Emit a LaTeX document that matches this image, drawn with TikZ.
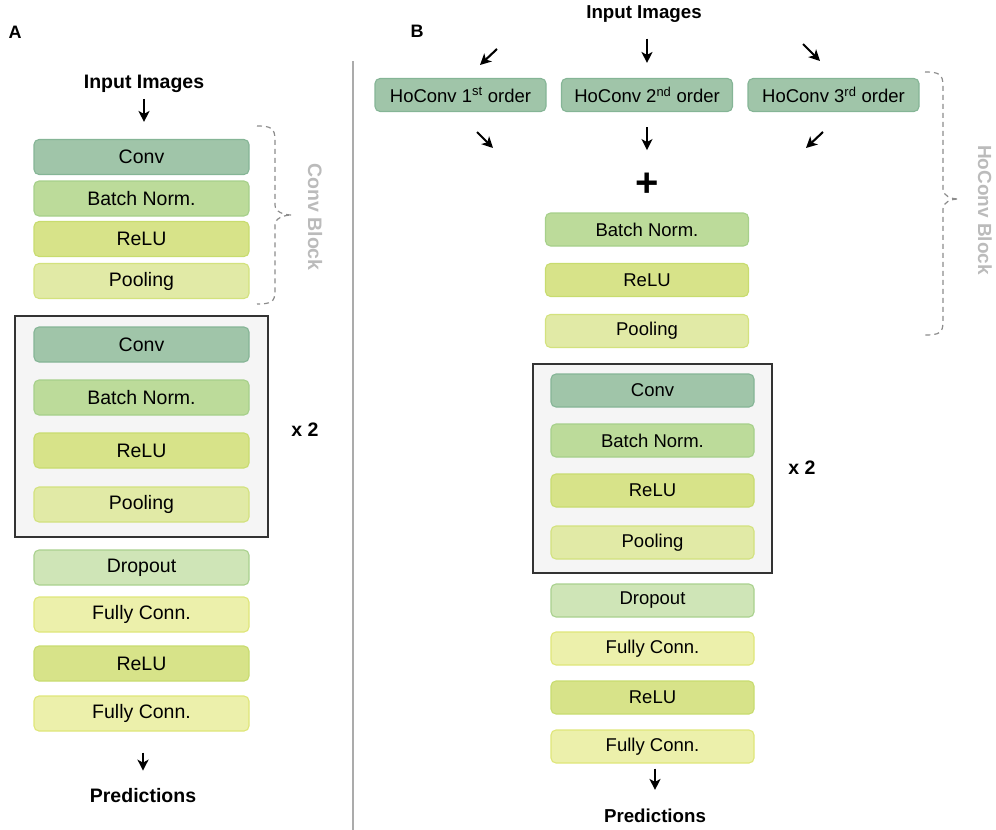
\documentclass[tikz,border=0pt]{standalone}
\usepackage{fontspec}
\setmainfont{Liberation Sans}
\usetikzlibrary{positioning,arrows.meta}

\definecolor{convfill}{HTML}{A0C5A9}
\definecolor{convline}{HTML}{85B596}
\definecolor{bnfill}{HTML}{BCDB9A}
\definecolor{bnline}{HTML}{A6D08A}
\definecolor{relufill}{HTML}{D7E389}
\definecolor{reluline}{HTML}{C8DC6F}
\definecolor{poolfill}{HTML}{E1EAA6}
\definecolor{poolline}{HTML}{D3E27E}
\definecolor{dropfill}{HTML}{CFE5B7}
\definecolor{dropline}{HTML}{A9D18E}
\definecolor{fcfill}{HTML}{ECF0AB}
\definecolor{fcline}{HTML}{DFE679}
\definecolor{repfill}{HTML}{F5F5F5}
\definecolor{repline}{HTML}{333333}
\definecolor{blockgray}{HTML}{BBBBBB}
\definecolor{bracegray}{HTML}{8C8C8C}

\tikzset{
  layer/.style={draw, rounded corners=5pt, line width=1.1pt, inner sep=0pt},
  wideA/.style={layer, minimum width=215pt, minimum height=35pt,
                font=\fontsize{19.5}{22}\selectfont},
  wideB/.style={layer, minimum width=203pt, minimum height=33pt,
                font=\fontsize{18.5}{21}\selectfont},
  hobox/.style={layer, minimum width=171pt, minimum height=33pt,
                fill=convfill, draw=convline,
                font=\fontsize{18.5}{21}\selectfont},
  conv/.style={fill=convfill, draw=convline},
  bnorm/.style={fill=bnfill, draw=bnline},
  relu/.style={fill=relufill, draw=reluline},
  pool/.style={fill=poolfill, draw=poolline},
  drop/.style={fill=dropfill, draw=dropline},
  fconn/.style={fill=fcfill, draw=fcline},
  repbox/.style={draw=repline, fill=repfill, line width=1.3pt, inner sep=0pt},
  title/.style={inner sep=0pt, font=\fontsize{19.5}{22}\selectfont\bfseries},
  panel/.style={inner sep=0pt, font=\fontsize{18}{20}\selectfont\bfseries},
  blocklabel/.style={inner sep=0pt, text=blockgray, rotate=-90,
                     font=\fontsize{19.5}{22}\selectfont\bfseries},
  dbrace/.style={draw=bracegray, line width=1.2pt, dash pattern=on 5pt off 4pt},
  arr/.style={-{Stealth[length=11pt,width=11pt,inset=3pt]}, line width=2.1pt}
}

\begin{document}
\begin{tikzpicture}[x=1pt, y=-1pt]

  \useasboundingbox (0,0) rectangle (996,830);

  % panel A
  \node [panel] (labA) at (15,32) {A};
  \node [title] (inA) at (144,84) {Input Images};

  \node [wideA, conv]  (convA1) at (141.5,157)   {Conv};
  \node [wideA, bnorm] (bnA1)   at (141.5,198.5) {Batch Norm.};
  \node [wideA, relu]  (reluA1) at (141.5,239)   {ReLU};
  \node [wideA, pool]  (poolA1) at (141.5,281)   {Pooling};

  \draw [dbrace] (257,126) .. controls (271,126) and (275,128) .. (275,140)
        -- (275,205) .. controls (275,212) and (284,215) .. (292,215)
        .. controls (284,215) and (275,218) .. (275,225)
        -- (275,291) .. controls (275,302) and (271,304) .. (257,304);
  \node [blocklabel] (blkA) at (315,217) {Conv Block};

  \node [repbox, minimum width=253pt, minimum height=221pt]
        (repA) at (141.5,426.5) {};
  \node [wideA, conv]  (convA2) at (141.5,344.5) {Conv};
  \node [wideA, bnorm] (bnA2)   at (141.5,397.5) {Batch Norm.};
  \node [wideA, relu]  (reluA2) at (141.5,450.5) {ReLU};
  \node [wideA, pool]  (poolA2) at (141.5,504.5) {Pooling};
  \node [title] (x2A) at (305,430) {x 2};

  \node [wideA, drop]  (dropA)  at (141.5,567.5) {Dropout};
  \node [wideA, fconn] (fcA1)   at (141.5,614.5) {Fully Conn.};
  \node [wideA, relu]  (reluA3) at (141.5,663.5) {ReLU};
  \node [wideA, fconn] (fcA2)   at (141.5,713.5) {Fully Conn.};
  \node [title] (predA) at (143,796) {Predictions};

  \draw [arr, shorten <=6pt, shorten >=17pt] (inA) -- (inA |- convA1.north);
  \draw [arr, shorten <=21pt, shorten >=18pt] (fcA2.south -| predA) -- (predA);

  % divider
  \coordinate (divtop) at (353,61);
  \coordinate (divbot) at (353,830);
  \draw [line width=2.5pt, color=black!33] (divtop) -- (divbot);

  % panel B
  \node [panel] (labB) at (417,31) {B};
  \node [title, font=\fontsize{18.7}{21}\selectfont\bfseries]
        (inB) at (644,14) {Input Images};

  \node [hobox] (ho1) at (460.5,95) {HoConv 1\textsuperscript{st} order};
  \node [hobox] (ho2) at (647,95)   {HoConv 2\textsuperscript{nd} order};
  \node [hobox] (ho3) at (833.5,95) {HoConv 3\textsuperscript{rd} order};

  \coordinate (d1s) at (497,49);  \coordinate (d1e) at (480,65);
  \coordinate (d3s) at (803,44);  \coordinate (d3e) at (820,61);
  \coordinate (u1s) at (477,132); \coordinate (u1e) at (493,148);
  \coordinate (u3s) at (823,132); \coordinate (u3e) at (806,148);
  \draw [arr] (d1s) -- (d1e);
  \draw [arr] (d3s) -- (d3e);
  \draw [arr] (u1s) -- (u1e);
  \draw [arr] (u3s) -- (u3e);

  \node [inner sep=0pt, font=\fontsize{40}{40}\selectfont\bfseries]
        (plus) at (647,185) {+};

  \draw [arr, shorten <=16pt, shorten >=15pt] (inB.south -| ho2) -- (ho2.north);
  \draw [arr, shorten <=15pt, shorten >=23pt] (ho2.south) -- (plus.north);

  \node [wideB, bnorm] (bnB1)   at (647,229.5) {Batch Norm.};
  \node [wideB, relu]  (reluB1) at (647,280)   {ReLU};
  \node [wideB, pool]  (poolB1) at (647,331)   {Pooling};

  \draw [dbrace] (925,72) .. controls (939,72) and (943,74) .. (943,86)
        -- (943,189) .. controls (943,196) and (951,199) .. (959,199)
        .. controls (951,199) and (943,202) .. (943,209)
        -- (943,322) .. controls (943,333) and (939,335) .. (925,335);
  \node [blocklabel, font=\fontsize{19}{22}\selectfont\bfseries]
        (blkB) at (985,210) {HoConv Block};

  \node [repbox, minimum width=239pt, minimum height=209pt]
        (repB) at (652.5,468.5) {};
  \node [wideB, conv]  (convB2) at (652.5,390.5) {Conv};
  \node [wideB, bnorm] (bnB2)   at (652.5,440.5) {Batch Norm.};
  \node [wideB, relu]  (reluB2) at (652.5,490.5) {ReLU};
  \node [wideB, pool]  (poolB2) at (652.5,542.5) {Pooling};
  \node [title] (x2B) at (802,468) {x 2};

  \node [wideB, drop]  (dropB)  at (652.5,600.5) {Dropout};
  \node [wideB, fconn] (fcB1)   at (652.5,648.5) {Fully Conn.};
  \node [wideB, relu]  (reluB3) at (652.5,697.5) {ReLU};
  \node [wideB, fconn] (fcB2)   at (652.5,746.5) {Fully Conn.};
  \node [title, font=\fontsize{18.7}{21}\selectfont\bfseries]
        (predB) at (655,816) {Predictions};

  \draw [arr, shorten <=5pt, shorten >=19pt] (fcB2.south -| predB) -- (predB);

\end{tikzpicture}
\end{document}
